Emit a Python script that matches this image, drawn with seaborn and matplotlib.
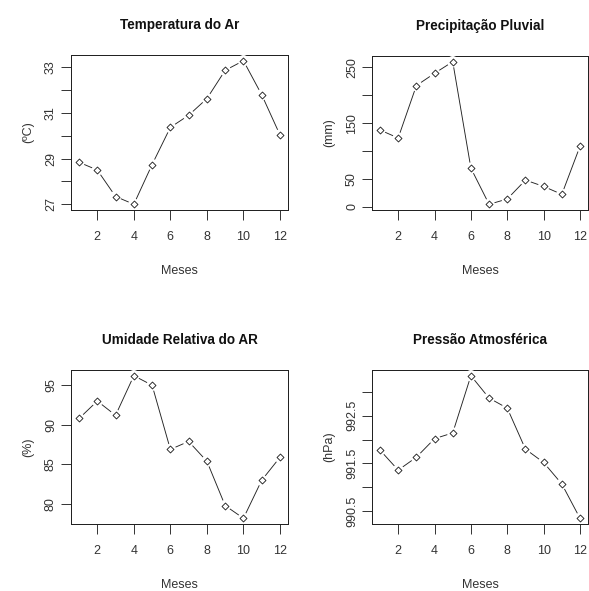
import numpy as np
import pandas as pd
import seaborn as sns
import matplotlib.pyplot as plt
from matplotlib.ticker import FixedLocator, FixedFormatter

# monthly data
meses = list(range(1, 13))
temperatura = [28.84, 28.50, 27.34, 27.00, 28.74, 30.37, 30.90, 31.63, 32.87, 33.29, 31.80, 30.04]
precipitacao = [137.8, 123.5, 217.3, 239.3, 260.1, 69.5, 4.8, 14.3, 48.1, 36.8, 22.6, 108.7]
umidade = [90.8, 93.0, 91.2, 96.2, 95.0, 86.9, 87.9, 85.4, 79.8, 78.2, 83.0, 85.9]
pressao = [991.78, 991.36, 991.63, 992.02, 992.14, 993.34, 992.87, 992.66, 991.80, 991.52, 991.07, 990.35]

titulos = ["Temperatura do Ar", "Precipitação Pluvial", "Umidade Relativa do AR", "Pressão Atmosférica"]
unidades = ["(ºC)", "(mm)", "(%)", "(hPa)"]
y_ticks = [[27, 28, 29, 30, 31, 32, 33],
           [0, 50, 100, 150, 200, 250],
           [80, 85, 90, 95],
           [990.5, 991.0, 991.5, 992.0, 992.5, 993.0]]
y_labels = [["27", "", "29", "", "31", "", "33"],
            ["0", "50", "", "150", "", "250"],
            ["80", "85", "90", "95"],
            ["990.5", "", "991.5", "", "992.5", ""]]
x_ticks = [2, 4, 6, 8, 10, 12]

sns.set_style("white")
plt.rcParams['font.family'] = ['Liberation Sans', 'DejaVu Sans']

W, H = 589, 591
DPI = 72
fig = plt.figure(figsize=(W / DPI, H / DPI), dpi=DPI)

# panel boxes in pixels: left, top, right, bottom
caixas = [(71, 55, 288, 210), (372, 56, 588, 210),
          (71, 370, 288, 524), (372, 370, 588, 524)]
series = [temperatura, precipitacao, umidade, pressao]
cor = "#222222"
cor_txt = "#333333"

for i in range(4):
    l, t, r, b = caixas[i]
    ax = fig.add_axes([l / W, (H - b) / H, (r - l) / W, (b - t) / H])
    df = pd.DataFrame({"mes": meses, "valor": series[i]})
    sns.lineplot(data=df, x="mes", y="valor", ax=ax, color=cor, linewidth=0.9)
    # white halo to make the R "type=b" gaps
    sns.scatterplot(data=df, x="mes", y="valor", ax=ax, marker="o", s=130,
                    color="white", edgecolor="none", zorder=3)
    sns.scatterplot(data=df, x="mes", y="valor", ax=ax, marker="D", s=24,
                    facecolor="white", edgecolor=cor, linewidth=0.9, zorder=4)
    ax.margins(x=0.04, y=0.04)
    ax.xaxis.set_major_locator(FixedLocator(x_ticks))
    ax.yaxis.set_major_locator(FixedLocator(y_ticks[i]))
    ax.yaxis.set_major_formatter(FixedFormatter(y_labels[i]))
    ax.tick_params(axis="both", length=10, width=0.9, color=cor, labelsize=12.5,
                   labelcolor=cor_txt, direction="out")
    ax.tick_params(axis="x", pad=11, bottom=True)
    ax.tick_params(axis="y", pad=4, left=True)
    for lab in ax.get_yticklabels():
        lab.set_rotation(90)
        lab.set_va("center")
    for sp in ax.spines.values():
        sp.set_color(cor)
        sp.set_linewidth(1.0)
    ax.set_xlabel("Meses", fontsize=12.5, color=cor_txt, labelpad=22)
    ax.set_ylabel(unidades[i], fontsize=12.5, color=cor_txt, labelpad=11)
    ax.set_title(titulos[i], fontsize=13.5, fontweight="bold", pad=26, color="#111111")

fig.savefig("out.png", dpi=DPI, facecolor="white")
